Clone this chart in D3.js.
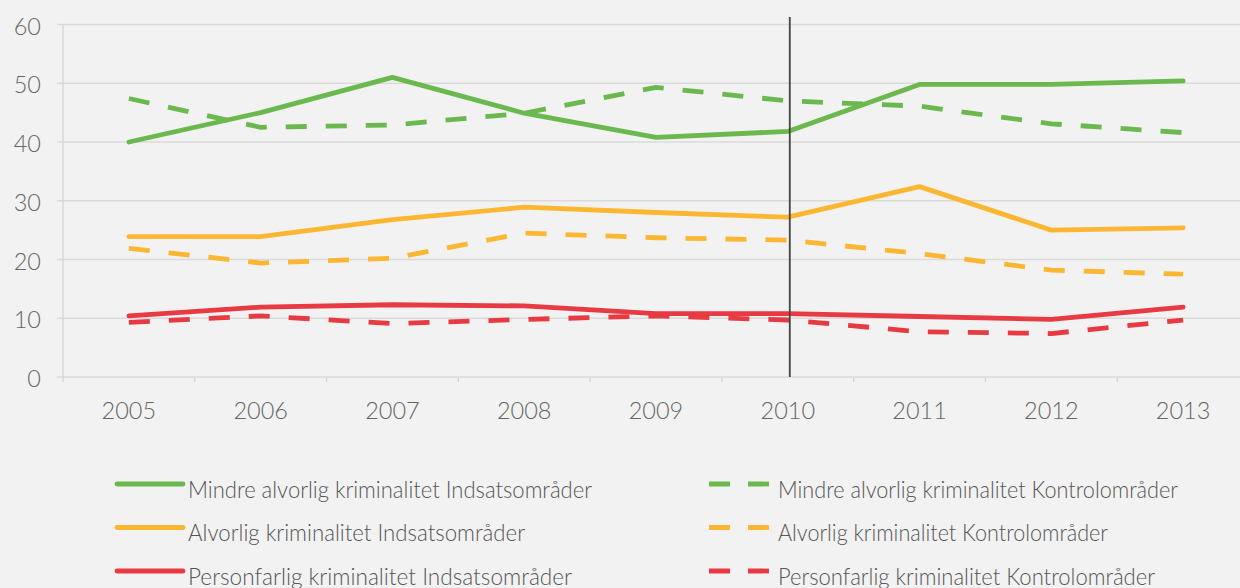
<!DOCTYPE html>
<html><head><meta charset="utf-8">
<script src="https://cdn.jsdelivr.net/npm/d3@7"></script>
<style>
html,body{margin:0;padding:0;background:#f2f2f2;}
svg{display:block;font-family:Lato,"Open Sans",sans-serif;}
</style></head>
<body><svg id="c" width="1240" height="588"></svg>
<script>
const years = ["2005","2006","2007","2008","2009","2010","2011","2012","2013"];
const yTicks = [0,10,20,30,40,50,60];
const mindreIndsats = [40.0,45.0,51.0,44.9,40.8,41.8,49.8,49.8,50.4];
const mindreKontrol = [47.4,42.5,42.9,44.9,49.3,47.0,46.1,43.1,41.6];
const alvorligIndsats = [23.9,23.9,26.8,28.9,28.0,27.2,32.4,25.0,25.4];
const alvorligKontrol = [21.9,19.4,20.2,24.5,23.7,23.3,21.0,18.2,17.5];
const personIndsats = [10.4,11.9,12.3,12.1,10.8,10.8,10.3,9.8,11.9];
const personKontrol = [9.3,10.4,9.1,9.8,10.4,9.7,7.7,7.4,9.7];
const seriesNames = [
  "Mindre alvorlig kriminalitet Indsatsområder",
  "Mindre alvorlig kriminalitet Kontrolområder",
  "Alvorlig kriminalitet Indsatsområder",
  "Alvorlig kriminalitet Kontrolområder",
  "Personfarlig kriminalitet Indsatsområder",
  "Personfarlig kriminalitet Kontrolområder"
];
const markerYear = "2010";

const GREEN="#6bb84f", ORANGE="#fcb732", RED="#e83a42";
const series = [
  {name:seriesNames[0], values:mindreIndsats, color:GREEN, dashed:false, textW:404},
  {name:seriesNames[1], values:mindreKontrol, color:GREEN, dashed:true, textW:400},
  {name:seriesNames[2], values:alvorligIndsats, color:ORANGE, dashed:false, textW:337},
  {name:seriesNames[3], values:alvorligKontrol, color:ORANGE, dashed:true, textW:330},
  {name:seriesNames[4], values:personIndsats, color:RED, dashed:false, textW:384},
  {name:seriesNames[5], values:personKontrol, color:RED, dashed:true, textW:377}
];

const svg = d3.select("#c");
const x = d3.scaleBand().domain(years).range([63,1249]);
const y = d3.scaleLinear().domain([0,60]).range([377,24.5]);

// grid
svg.append("g").selectAll("line").data(yTicks).join("line")
  .attr("x1",57).attr("x2",1240)
  .attr("y1",d=>y(d)).attr("y2",d=>y(d))
  .attr("stroke","#dadada").attr("stroke-width",1.3);

// y axis line
svg.append("line").attr("x1",63).attr("x2",63).attr("y1",y(60)).attr("y2",y(0))
  .attr("stroke","#d4d4d4").attr("stroke-width",1.3);

// y labels
svg.append("g").selectAll("text").data(yTicks).join("text")
  .attr("x",41).attr("y",d=>y(d)+10)
  .attr("text-anchor","end").attr("font-size",23.5).attr("font-weight",300)
  .attr("fill","#666").text(d=>d);

// x axis ticks
const bounds = years.map(d=>x(d)).concat([x(years[years.length-1])+x.bandwidth()]);
svg.append("g").selectAll("line").data(bounds).join("line")
  .attr("x1",d=>d).attr("x2",d=>d).attr("y1",y(0)).attr("y2",y(0)+5)
  .attr("stroke","#d4d4d4").attr("stroke-width",1.3);
svg.append("g").selectAll("text").data(years).join("text")
  .attr("x",d=>x(d)+x.bandwidth()/2).attr("y",419)
  .attr("text-anchor","middle").attr("font-size",23.5).attr("font-weight",300)
  .attr("fill","#666").text(d=>d);

// lines
const line = d3.line().x((d,i)=>x(years[i])+x.bandwidth()/2).y(d=>y(d));
svg.append("g").selectAll("path").data(series).join("path")
  .attr("d",d=>line(d.values)).attr("fill","none")
  .attr("stroke",d=>d.color).attr("stroke-width",4.8)
  .attr("stroke-linejoin","round")
  .attr("stroke-linecap",d=>d.dashed?"butt":"round")
  .attr("stroke-dasharray",d=>d.dashed?"21,19":null);

// marker vertical line
svg.append("line")
  .attr("x1",x(markerYear)+x.bandwidth()/2+2).attr("x2",x(markerYear)+x.bandwidth()/2+2)
  .attr("y1",17).attr("y2",y(0))
  .attr("stroke","#444").attr("stroke-width",1.8);

// legend
const legRows = [484,527.5,571];
series.forEach((s,i)=>{
  const col = i%2, row = Math.floor(i/2);
  const ly = legRows[row];
  const g = svg.append("g");
  if(!s.dashed){
    g.append("line").attr("x1",117).attr("x2",183).attr("y1",ly).attr("y2",ly)
      .attr("stroke",s.color).attr("stroke-width",4.8).attr("stroke-linecap","round");
  } else {
    g.append("line").attr("x1",709).attr("x2",769).attr("y1",ly).attr("y2",ly)
      .attr("stroke",s.color).attr("stroke-width",4.8)
      .attr("stroke-dasharray","21,18");
  }
  const tx = col===0?188:778;
  g.append("text").attr("x",tx).attr("y",ly+13.5)
    .attr("font-size",23).attr("font-weight",300).attr("fill","#555")
    .attr("textLength",s.textW).attr("lengthAdjust","spacingAndGlyphs")
    .text(s.name);
});
</script></body></html>
